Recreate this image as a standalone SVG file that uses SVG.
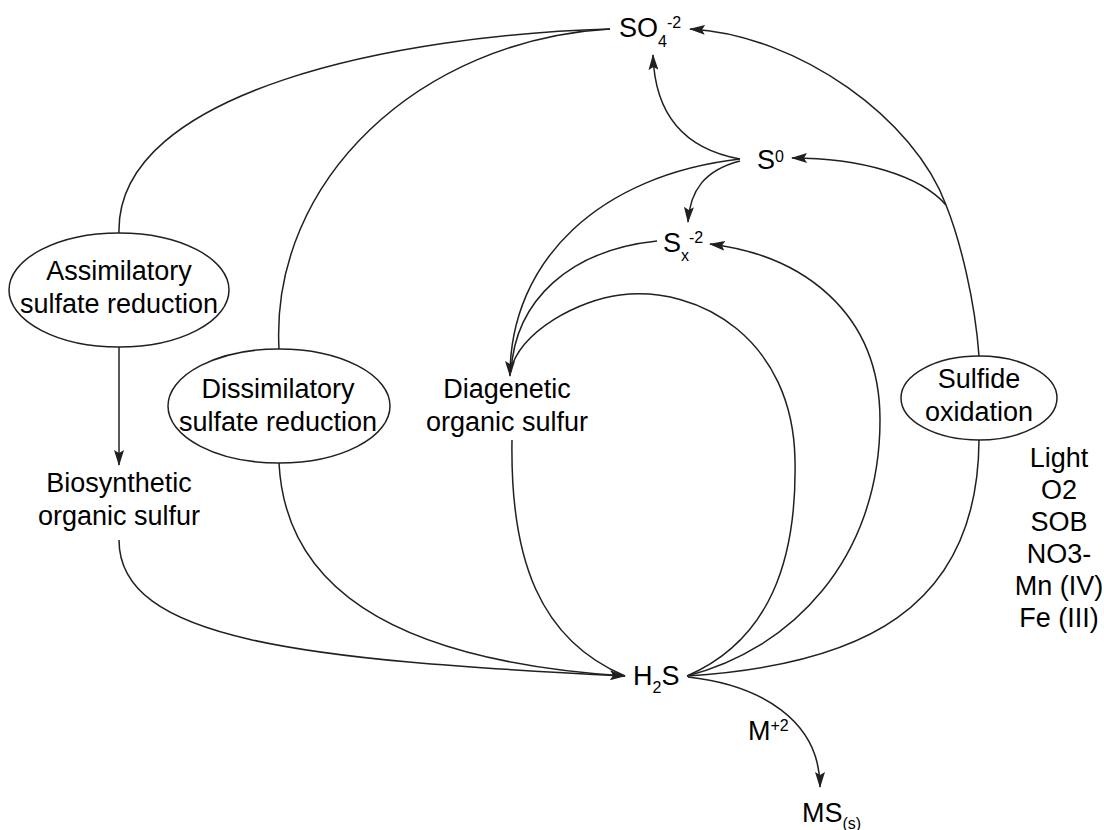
<svg xmlns="http://www.w3.org/2000/svg" width="1104" height="830" viewBox="0 0 1104 830">
<style>
text{font-family:"Liberation Sans",Arial,sans-serif;font-size:27px;fill:#000}
.sm{font-size:16px}
.c{text-anchor:middle}
.e{fill:none;stroke:#231f20;stroke-width:1.5}
.l{fill:none;stroke:#231f20;stroke-width:1.5}
</style>
<defs>
<marker id="ah" viewBox="0 0 16 10" refX="15" refY="5" markerWidth="16" markerHeight="10" markerUnits="userSpaceOnUse" orient="auto">
<path d="M0,0 L16,5 L0,10 L3,5 z" fill="#231f20"/>
</marker>
</defs>
<rect width="1104" height="830" fill="#fff"/>
<g id="connectors">
<path class="l" d="M119,233 C115,90 400,35 610,29"/>
<path class="l" d="M279,349 C270,180 420,40 610,29"/>
<path class="l" d="M119,347 L119,465" marker-end="url(#ah)"/>
<path class="l" d="M119,540 C119,640 300,660 625,676" marker-end="url(#ah)"/>
<path class="l" d="M279,463 C285,580 380,660 625,676"/>
<path class="l" d="M512,440 C510,560 540,640 625,676"/>
<path class="l" d="M687,676 C860,665 978,610 979,440"/>
<path class="l" d="M687,676 C790,650 880,560 880,420 C880,310 800,255 710,244" marker-end="url(#ah)"/>
<path class="l" d="M687,676 C770,640 797,560 795,460 C793,340 700,285 620,295 C580,300 520,330 510,372"/>
<path class="l" d="M740,159 C600,175 510,260 510,376" marker-end="url(#ah)"/>
<path class="l" d="M657,241 C570,250 515,300 511,372"/>
<path class="l" d="M740,159 C690,150 655,120 653,55" marker-end="url(#ah)"/>
<path class="l" d="M740,161 C705,170 690,190 688,222" marker-end="url(#ah)"/>
<path class="l" d="M979,356 C975,300 960,240 946,205"/>
<path class="l" d="M946,205 C920,175 860,158 792,158" marker-end="url(#ah)"/>
<path class="l" d="M946,205 C915,120 800,35 690,29" marker-end="url(#ah)"/>
<path class="l" d="M688,677 C760,685 820,720 820,787" marker-end="url(#ah)"/>
</g>
<g id="so4"><text x="619" y="37">SO<tspan class="sm" dy="10">4</tspan><tspan class="sm" dy="-19">-2</tspan></text></g>
<g id="s0"><text x="757" y="169">S<tspan class="sm" dy="-7">0</tspan></text></g>
<g id="sx"><text x="663" y="252">S<tspan class="sm" dy="9">x</tspan><tspan class="sm" dy="-18">-2</tspan></text></g>
<g id="assimilatory">
<ellipse class="e" cx="119" cy="290" rx="110" ry="57"/>
<text class="c" x="119" y="280">Assimilatory</text>
<text class="c" x="119" y="313">sulfate reduction</text>
</g>
<g id="dissimilatory">
<ellipse class="e" cx="279" cy="406" rx="111" ry="57"/>
<text class="c" x="278" y="398">Dissimilatory</text>
<text class="c" x="278" y="431">sulfate reduction</text>
</g>
<g id="biosynthetic">
<text class="c" x="119" y="492">Biosynthetic</text>
<text class="c" x="119" y="525">organic sulfur</text>
</g>
<g id="diagenetic">
<text class="c" x="507" y="398">Diagenetic</text>
<text class="c" x="507" y="431">organic sulfur</text>
</g>
<g id="sulfide-oxidation">
<ellipse class="e" cx="979" cy="398" rx="78" ry="42"/>
<text class="c" x="979" y="388">Sulfide</text>
<text class="c" x="979" y="421">oxidation</text>
</g>
<g id="oxidants">
<text class="c" x="1059" y="467">Light</text>
<text class="c" x="1059" y="499">O2</text>
<text class="c" x="1059" y="531">SOB</text>
<text class="c" x="1059" y="563">NO3-</text>
<text class="c" x="1059" y="595">Mn (IV)</text>
<text class="c" x="1059" y="627">Fe (III)</text>
</g>
<g id="h2s"><text x="633" y="685">H<tspan class="sm" dy="8">2</tspan><tspan dy="-8">S</tspan></text></g>
<g id="m2"><text x="748" y="740">M<tspan class="sm" dy="-9">+2</tspan></text></g>
<g id="ms"><text x="802" y="822">MS<tspan class="sm" dy="7">(s)</tspan></text></g>
</svg>
